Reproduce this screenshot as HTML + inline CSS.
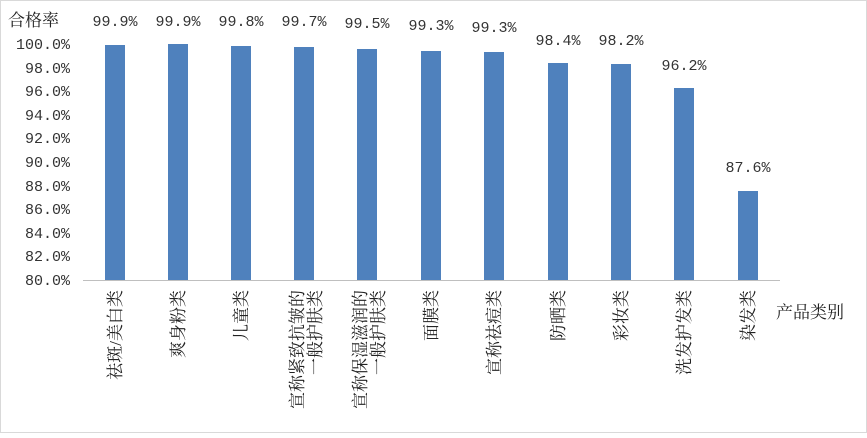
<!DOCTYPE html>
<html><head><meta charset="utf-8"><style>body{margin:0;background:#fff}</style></head><body>
<svg width="867" height="433" xmlns="http://www.w3.org/2000/svg" font-family="'Liberation Mono','Noto Sans CJK SC',monospace">
<rect x="0.5" y="0.5" width="866" height="432" fill="#fff" stroke="#d9d9d9"/>
<text x="8" y="26" font-size="17" font-weight="normal" font-family="'Liberation Serif','Noto Serif CJK SC',serif" fill="#222">合格率</text>
<g font-size="15" fill="#333" text-anchor="end">
<text x="70" y="49">100.0%</text><text x="70" y="73">98.0%</text><text x="70" y="96">96.0%</text><text x="70" y="120">94.0%</text><text x="70" y="143">92.0%</text><text x="70" y="167">90.0%</text><text x="70" y="191">88.0%</text><text x="70" y="214">86.0%</text><text x="70" y="238">84.0%</text><text x="70" y="261">82.0%</text><text x="70" y="285">80.0%</text>
</g>
<g fill="#4f81bd">
<rect x="105" y="45" width="20" height="235"/>
<rect x="168" y="44" width="20" height="236"/>
<rect x="231" y="46" width="20" height="234"/>
<rect x="294" y="47" width="20" height="233"/>
<rect x="357" y="49" width="20" height="231"/>
<rect x="421" y="51" width="20" height="229"/>
<rect x="484" y="52" width="20" height="228"/>
<rect x="548" y="63" width="20" height="217"/>
<rect x="611" y="64" width="20" height="216"/>
<rect x="674" y="88" width="20" height="192"/>
<rect x="738" y="191" width="20" height="89"/>
</g>
<line x1="83" y1="280.5" x2="780" y2="280.5" stroke="#bfbfbf"/>
<g font-size="15" fill="#333" text-anchor="middle">
<text x="115" y="26">99.9%</text><text x="178" y="26">99.9%</text><text x="241" y="26">99.8%</text><text x="304" y="26">99.7%</text><text x="367" y="28">99.5%</text><text x="431" y="30">99.3%</text><text x="494" y="32">99.3%</text><text x="558" y="45">98.4%</text><text x="621" y="45">98.2%</text><text x="684" y="70">96.2%</text><text x="748" y="172">87.6%</text>
</g>
<g font-size="17" fill="#222" font-family="'Liberation Serif','Noto Serif CJK SC',serif" text-anchor="end">
<text transform="translate(121,290) rotate(-90)">祛斑/美白类</text>
<text transform="translate(184,290) rotate(-90)">爽身粉类</text>
<text transform="translate(247,290) rotate(-90)">儿童类</text>
<text transform="translate(303,290) rotate(-90)">宣称紧致抗皱的</text>
<text transform="translate(321,290) rotate(-90)">一般护肤类</text>
<text transform="translate(366,290) rotate(-90)">宣称保湿滋润的</text>
<text transform="translate(384,290) rotate(-90)">一般护肤类</text>
<text transform="translate(437,290) rotate(-90)">面膜类</text>
<text transform="translate(500,290) rotate(-90)">宣称祛痘类</text>
<text transform="translate(564,290) rotate(-90)">防晒类</text>
<text transform="translate(627,290) rotate(-90)">彩妆类</text>
<text transform="translate(690,290) rotate(-90)">洗发护发类</text>
<text transform="translate(754,290) rotate(-90)">染发类</text>
</g>
<text x="776" y="318" font-size="17" fill="#222" font-family="'Liberation Serif','Noto Serif CJK SC',serif">产品类别</text>
</svg>
</body></html>
